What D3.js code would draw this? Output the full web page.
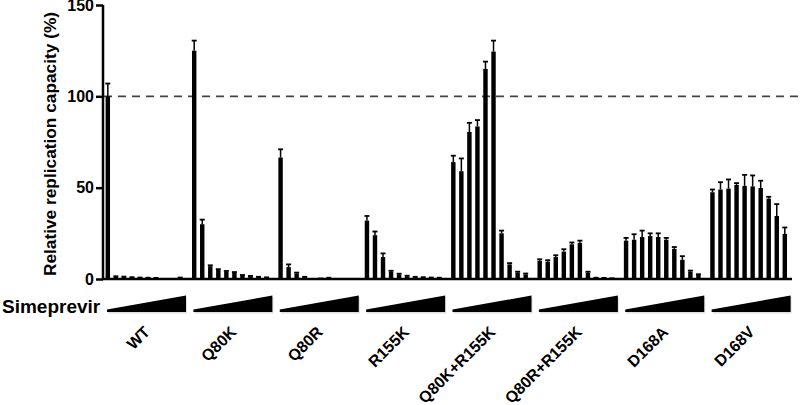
<!DOCTYPE html>
<html><head><meta charset="utf-8">
<script src="https://cdn.jsdelivr.net/npm/d3@7"></script>
<style>body{margin:0;background:#fff}svg{display:block}text{font-family:"Liberation Sans",Arial,sans-serif;font-weight:bold}</style>
</head><body><svg id="c" width="800" height="405"></svg>
<script>
const groups = ["WT","Q80K","Q80R","R155K","Q80K+R155K","Q80R+R155K","D168A","D168V"];
const wtMean  = [100, 1.2, 1, 0.8, 0.6, 0.5, 0.4, 0, 0, 0.6];
const wtErr   = [7, 0.3, 0.3, 0.2, 0.2, 0.2, 0.2, 0, 0, 0.2];
const q80kMean = [125, 30, 7, 5, 4, 3.5, 2, 1.5, 1, 0.8];
const q80kErr  = [5.5, 2.5, 0.5, 0.4, 0.4, 0.3, 0.2, 0.2, 0.2, 0.1];
const q80rMean = [66.5, 6.5, 3, 1, 0, 0.2, 0.6, 0, 0, 0];
const q80rErr  = [4.5, 1.5, 0.5, 0.2, 0, 0.1, 0.1, 0, 0, 0];
const r155kMean = [32, 24, 12, 4, 2.5, 1.5, 1, 0.8, 0.6, 0.5];
const r155kErr  = [2.5, 2, 2, 0.5, 0.4, 0.3, 0.2, 0.2, 0.2, 0.2];
const q80kr155kMean = [64, 59, 80.5, 83.5, 115, 124.5, 25, 8, 3.5, 2.5];
const q80kr155kErr  = [3.5, 7, 5, 3.5, 4, 6, 1.5, 0.7, 0.5, 0.5];
const q80rr155kMean = [10, 9.5, 12, 15, 19, 19.8, 3.5, 0.6, 0.5, 0.3];
const q80rr155kErr  = [0.8, 0.8, 1, 1.3, 1, 1.2, 0.5, 0.1, 0.1, 0.1];
const d168aMean = [21, 21.5, 23, 23.5, 23, 21.5, 16.5, 10.5, 4, 2.2];
const d168aErr  = [1.5, 3, 3.5, 1.5, 2, 1, 1, 2, 0.6, 0.4];
const d168vMean = [47.5, 49, 49.5, 51.5, 51, 50.7, 49.8, 44, 34.5, 24.7];
const d168vErr  = [1.5, 4, 5, 1, 6, 6, 4, 1, 6.5, 3.5];
const yTicks = [0, 50, 100, 150];
const refLine = 100;
const doses = d3.range(10);

const means = [wtMean,q80kMean,q80rMean,r155kMean,q80kr155kMean,q80rr155kMean,d168aMean,d168vMean];
const errs  = [wtErr,q80kErr,q80rErr,r155kErr,q80kr155kErr,q80rr155kErr,d168aErr,d168vErr];

const svg = d3.select("#c");
const y = d3.scaleLinear().domain([0,150]).range([279,5]);
const x0 = d3.scaleBand().domain(groups).range([104,795]);
const x1 = d3.scaleBand().domain(doses).range([0,80]).paddingInner(0.45).paddingOuter(0.2);

svg.append("line").attr("x1",104).attr("x2",800).attr("y1",y(refLine)).attr("y2",y(refLine))
  .attr("stroke","#444").attr("stroke-width",1.6).attr("stroke-dasharray","8,6");

const data = [];
groups.forEach((g,gi)=>doses.forEach(d=>data.push({g,d,v:means[gi][d],e:errs[gi][d]})));

const bx = r => x0(r.g)+x1(r.d);
svg.append("g").selectAll("rect").data(data).join("rect")
  .attr("x",bx).attr("width",x1.bandwidth())
  .attr("y",r=>y(r.v)).attr("height",r=>y(0)-y(r.v)).attr("fill","#000");

const eg = svg.append("g").attr("stroke","#000");
const withErr = data.filter(r=>r.e>0);
eg.selectAll("line.v").data(withErr).join("line").attr("class","v")
  .attr("x1",r=>bx(r)+x1.bandwidth()/2).attr("x2",r=>bx(r)+x1.bandwidth()/2)
  .attr("y1",r=>y(r.v)).attr("y2",r=>y(r.v+r.e)).attr("stroke-width",1.5);
eg.selectAll("line.c").data(withErr).join("line").attr("class","c")
  .attr("x1",r=>bx(r)+x1.bandwidth()/2-2.5).attr("x2",r=>bx(r)+x1.bandwidth()/2+2.5)
  .attr("y1",r=>y(r.v+r.e)).attr("y2",r=>y(r.v+r.e)).attr("stroke-width",1.8);

const ya = svg.append("g").attr("transform","translate(103,0)")
  .call(d3.axisLeft(y).tickValues(yTicks).tickSize(7).tickPadding(2));
ya.select(".domain").attr("stroke-width",2.5).attr("d","M0,"+y(150)+"V"+y(0));
ya.selectAll(".tick line").attr("stroke-width",2.5);
ya.selectAll(".tick text").attr("font-size",16).attr("fill","#000");

svg.append("line").attr("x1",102).attr("x2",792).attr("y1",y(0)).attr("y2",y(0))
  .attr("stroke","#000").attr("stroke-width",2.5);

svg.append("text").attr("transform","translate(56,"+((y(0)+y(150))/2+2)+") rotate(-90)")
  .attr("text-anchor","middle").attr("font-size",17.3).text("Relative replication capacity (%)");

svg.append("text").attr("x",2).attr("y",313).attr("font-size",19).text("Simeprevir");

const wedge = g => {const s=x0(g)+3, e=x0(g)+82; return `M${s},312L${e},312L${e},295.5L${s},309.5Z`;};
svg.append("g").selectAll("path.sh").data(groups).join("path").attr("d",wedge)
  .attr("transform","translate(1,1.5)").attr("fill","#ccc").attr("opacity",0.6);
svg.append("g").selectAll("path.w").data(groups).join("path").attr("d",wedge).attr("fill","#000");

svg.append("g").selectAll("text").data(groups).join("text")
  .attr("transform",g=>`translate(${x0(g)+47},333) rotate(-45)`)
  .attr("text-anchor","end").attr("font-size",16).text(g=>g);
</script></body></html>
